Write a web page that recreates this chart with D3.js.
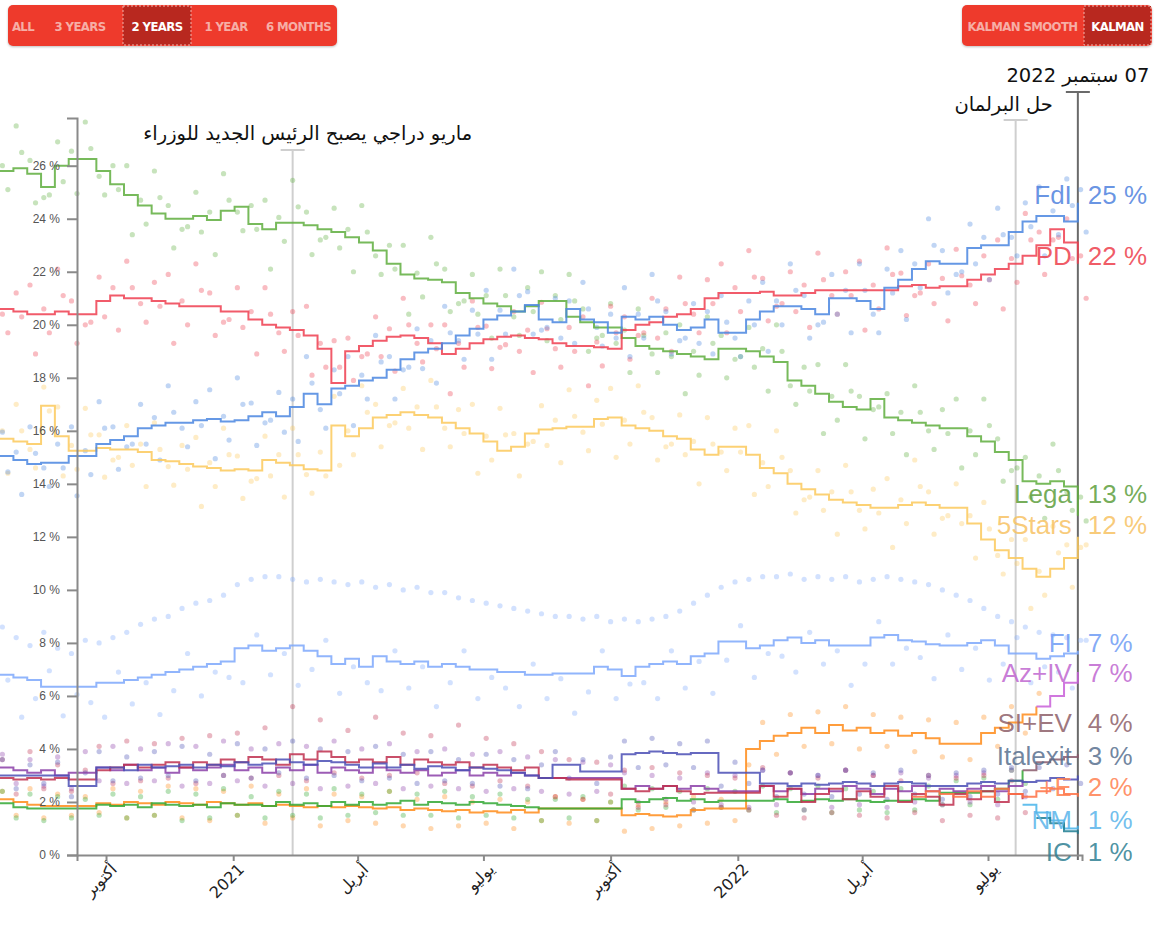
<!DOCTYPE html>
<html>
<head>
<meta charset="utf-8">
<script src="https://cdn.jsdelivr.net/npm/d3@7"></script>
<style>
  body { margin: 0; background: #fff; }
  svg { display: block; }
</style>
</head>
<body>
<div id="chart"></div>
<script>
// one kalman estimate every 10 days, starting 16 Jul 2020
const firstDate = new Date(2020, 6, 16)
const dates = d3.range(79).map(i => d3.timeDay.offset(firstDate, i * 10))

const tickDates  = ['2020-10-01', '2021-01-01', '2021-04-01', '2021-07-01', '2021-10-01', '2022-01-01', '2022-04-01', '2022-07-01']
const tickLabels = ['أكتوبر', '2021', 'أبريل', 'يوليو', 'أكتوبر', '2022', 'أبريل', 'يوليو']
const yTicks     = [0, 2, 4, 6, 8, 10, 12, 14, 16, 18, 20, 22, 24, 26]

const rangeButtons  = ['ALL', '3 YEARS', '2 YEARS', '1 YEAR', '6 MONTHS']
const smoothButtons = ['KALMAN SMOOTH', 'KALMAN']

const events = [
  { date: '2021-02-13', text: 'ماريو دراجي يصبح الرئيس الجديد للوزراء' },
  { date: '2022-07-21', text: 'حل البرلمان' },
  { date: '2022-09-04', text: '07 سبتمبر 2022' }
]

// final labels
const labelNames  = ['FdI', 'PD', 'Lega', '5Stars', 'FI', 'Az+IV', 'SI+EV', 'Italexit', '+E', 'NM', 'IC']
const labelValues = [25, 22, 13, 12, 7, 7, 4, 3, 2, 1, 1]

// ---- kalman lines (%) ----
const fdi = [
  15.05,14.9,14.75,14.8,14.8,15.05,15.05,15.5,15.65,15.8,
  16.1,16.2,16.3,16.3,16.4,16.45,16.35,16.4,16.55,16.7,
  16.55,16.9,17.4,17.0,17.6,17.7,17.9,18.0,18.3,18.7,
  18.95,19.1,19.3,19.6,19.85,20.2,20.35,20.5,20.75,20.2,
  20.1,20.6,20.2,20.1,19.7,20.3,20.2,20.3,20.0,19.8,
  19.9,20.2,19.7,19.7,20.2,20.5,20.7,20.7,20.6,20.4,
  21.0,21.0,20.9,20.6,21.4,21.7,22.1,22.4,22.3,22.3,
  22.9,23.0,23.0,23.5,23.9,24.1,24.1,23.9,24.6]
const pd = [
  20.6,20.5,20.4,20.4,20.5,20.4,20.4,20.9,21.1,21.0,
  21.0,20.9,20.8,20.7,20.7,20.7,20.5,20.5,20.2,20.0,
  19.9,19.8,19.6,19.1,17.8,19.0,19.2,19.4,19.55,19.6,
  19.5,19.3,18.9,19.1,19.3,19.45,19.55,19.6,19.5,19.45,
  19.3,19.2,19.2,19.15,19.1,19.8,20.0,20.1,20.3,20.4,
  20.6,21.0,21.2,21.2,21.2,21.25,21.1,21.1,21.2,21.3,
  21.3,21.3,21.3,21.3,21.3,21.45,21.5,21.4,21.45,21.45,
  21.7,21.9,22.1,22.3,22.6,23.0,23.6,23.1,22.3]
const lega = [
  25.8,25.9,25.7,25.2,26.0,26.25,26.25,25.8,25.3,24.9,
  24.5,24.2,24.0,24.0,24.1,23.95,24.3,24.45,23.8,23.6,
  23.85,23.85,23.75,23.6,23.5,23.3,23.1,22.8,22.3,21.9,
  21.75,21.7,21.6,21.2,21.0,20.8,20.7,20.5,20.7,20.9,
  20.9,20.3,20.1,19.9,19.9,19.5,19.2,19.1,19.0,18.9,
  18.8,18.7,19.1,19.1,19.0,18.8,18.6,17.9,17.7,17.4,
  17.1,16.9,16.8,17.2,16.5,16.4,16.3,16.2,16.1,16.1,
  15.8,15.6,15.2,14.9,14.1,14.0,14.1,13.9,12.8]
const m5s = [
  15.7,15.6,15.5,16.95,15.8,15.25,15.25,15.35,15.3,15.3,
  15.2,14.9,14.85,14.75,14.65,14.6,14.5,14.55,14.5,14.9,
  14.8,14.7,14.55,14.5,16.2,15.8,16.1,16.5,16.6,16.7,
  16.6,16.5,16.3,16.1,15.9,15.6,15.25,15.4,15.9,16.05,
  16.1,16.15,16.15,16.45,16.5,16.2,16.1,16.0,15.8,15.7,
  15.3,15.1,15.4,15.4,15.1,14.6,14.4,14.0,13.8,13.6,
  13.4,13.3,13.2,13.1,13.1,13.2,13.3,13.2,13.1,13.1,
  12.5,11.9,11.5,11.2,10.8,10.5,10.8,11.2,12.0]
const fi = [
  6.8,6.7,6.6,6.35,6.35,6.35,6.35,6.5,6.5,6.6,
  6.7,6.8,6.9,7.0,7.1,7.2,7.3,7.8,7.9,7.7,
  7.8,7.9,7.7,7.5,7.2,7.4,7.1,7.5,7.3,7.2,
  7.3,7.1,7.2,7.1,7.0,7.0,6.9,6.9,6.8,6.8,
  6.85,6.85,6.85,7.1,7.0,6.75,7.1,7.2,7.3,7.2,
  7.5,7.6,8.05,8.05,7.8,7.9,8.1,8.2,8.0,8.1,
  7.9,7.9,7.9,8.2,8.3,8.1,8.05,7.95,7.9,7.9,
  8.0,8.1,7.9,7.6,7.6,7.4,7.5,7.6,7.7]
const italexit = [
  3.0,3.0,3.0,3.0,3.0,2.6,2.6,3.3,3.3,3.2,
  3.4,3.3,3.35,3.4,3.3,3.4,3.35,3.5,3.4,3.45,
  3.6,3.5,3.4,3.55,3.5,3.4,3.3,3.45,3.3,3.4,
  3.25,3.35,3.3,3.2,3.3,3.25,3.2,3.1,3.0,2.9,
  3.4,3.4,3.15,3.15,3.15,3.8,3.85,3.9,3.85,3.8,
  3.85,3.85,3.1,3.1,3.1,2.7,2.7,2.6,2.7,2.65,
  2.7,2.75,2.7,2.6,2.7,2.75,2.7,2.6,2.6,2.6,
  2.7,2.75,2.7,2.8,2.75,2.8,2.9,2.85,3.0]
const iv = [
  3.3,3.2,3.1,3.2,3.0,3.1,3.1,3.3,3.2,3.4,
  3.2,3.3,3.1,3.3,3.2,3.3,3.4,3.2,3.3,3.1,
  3.3,3.2,3.4,3.1,3.3,3.2,3.1,3.3,3.2,3.1,
  3.2,3.0,3.1,3.2,3.0,3.1,3.0,3.1,3.0,2.9,
  2.9,2.9,2.9,2.9,2.9,2.5,2.6,2.5,2.6,2.5,
  2.6,2.5,2.4,2.4,2.4,2.6,2.4,2.5,2.3,2.5,
  2.4,2.6,2.5,2.3,2.5,2.4,2.6,2.4,2.5,2.4,
  2.5,2.6,2.4,2.6,2.8,null,null,null,null]
const si = [
  2.9,2.85,2.9,2.85,2.9,2.85,2.85,3.2,3.3,3.4,
  3.3,3.4,3.5,3.3,3.5,3.4,3.6,3.5,3.7,3.6,
  3.4,3.8,3.6,3.9,3.7,3.5,3.6,3.5,3.7,3.4,
  3.6,3.5,3.4,3.5,3.3,3.4,3.3,3.2,3.3,2.9,
  2.9,2.85,2.85,2.85,2.85,2.5,2.4,2.5,2.6,2.4,
  2.3,2.35,2.35,2.35,2.35,2.6,2.2,2.5,2.0,2.3,
  2.5,2.1,2.4,2.2,2.6,2.0,2.3,2.2,1.9,2.3,
  2.1,2.4,2.0,2.3,2.1,null,null,null,null]
const ev = [
  1.95,1.8,1.75,1.75,1.75,1.75,1.75,1.9,1.85,1.9,
  1.8,1.95,1.9,1.85,1.9,1.8,1.95,1.9,1.9,1.85,
  2.0,1.9,1.95,1.85,2.0,1.9,2.0,1.9,1.95,2.05,
  1.9,2.0,1.95,1.9,2.0,1.95,1.9,1.85,1.8,1.75,
  1.75,1.75,1.75,1.75,1.75,2.1,2.0,2.1,2.15,2.05,
  2.1,2.0,2.05,2.05,2.05,2.05,2.1,2.0,2.05,2.1,
  2.05,2.1,2.05,2.0,2.05,2.05,2.1,2.05,2.35,2.35,
  2.35,2.4,2.5,2.8,3.2,null,null,null,null]
const azione = [
  2.1,2.0,1.9,1.85,1.85,1.85,1.85,1.95,1.9,2.0,
  1.95,1.9,2.0,1.95,1.9,2.0,1.95,1.9,1.95,1.85,
  1.9,1.85,1.8,1.85,1.8,1.85,1.8,1.75,1.8,1.7,
  1.75,1.7,1.65,1.7,1.6,1.65,1.6,1.7,1.6,1.75,
  1.75,1.75,1.75,1.75,1.75,1.5,1.55,1.5,1.45,1.5,
  1.7,1.75,1.75,1.75,4.0,4.3,4.5,4.6,4.8,4.6,
  4.9,4.7,4.8,4.6,4.7,4.5,4.6,4.4,4.2,4.2,
  4.2,4.6,4.8,5.0,5.3,5.6,null,null,null]
const siev      = Array(74).fill(null).concat([3.2, 3.5, 3.6, 3.7, 3.8])
const aziv      = Array(75).fill(null).concat([5.6, 6.0, 6.5, 6.9])
const piuEuropa = Array(66).fill(null).concat([2.2,2.4,2.3,2.2,2.4,2.2,2.5,2.3,2.2,2.4,2.5,2.3,2.2])
const nm        = Array(74).fill(null).concat([1.9, 1.6, 1.3, 1.0, 1.1])
const ic        = Array(75).fill(null).concat([1.4, 1.2, 0.9, 0.8])

// ---- single polls (%) ----
const fdiPollsA = [
  15.95,15.2,16.15,14.6,15.5,16.15,15.25,17.1,16.15,15.4,
  17.0,16.5,17.7,16.1,17.1,17.55,16.55,18.0,17.05,16.3,
  17.45,17.2,18.8,16.8,18.3,18.8,18.1,19.6,18.8,18.3,
  19.85,19.4,20.7,19.4,20.55,21.3,20.55,22.1,21.25,19.8,
  21.0,20.9,21.6,19.9,20.4,21.4,20.4,21.9,20.5,19.4,
  20.8,20.5,21.1,19.5,20.9,21.6,20.9,22.3,21.1,20.0,
  21.9,21.3,22.3,20.4,22.1,22.8,22.3,24.0,22.8,21.9,
  23.8,23.3,24.4,23.3,24.6,25.2,24.3,25.5,25.1]
const fdiPollsB = [
  14.45,13.6,15.15,13.9,14.6,13.55,14.35,16.1,14.55,15.5,
  15.5,14.9,16.7,15.4,16.2,14.95,15.65,17.0,15.45,16.4,
  15.95,15.6,17.8,16.1,17.4,16.2,17.2,18.6,17.2,18.4,
  18.35,17.8,19.7,18.7,19.65,18.7,19.65,21.1,19.65,19.9,
  19.5,19.3,20.6,19.2,19.5,18.8,19.5,20.9,18.9,19.5,
  19.3,18.9,20.1,18.8,20.0,19.0,20.0,21.3,19.5,20.1,
  20.4,19.7,21.3,19.7,21.2,20.2,21.4,23.0,21.2,22.0,
  22.3,21.7,23.4,22.6,23.7,22.6,23.4,24.5,23.5]
const pdPollsA = [
  20.4,21.2,21.5,20.6,22.1,20.9,20.0,21.8,21.4,22.4,
  20.8,21.6,21.9,20.9,22.3,21.2,20.1,21.4,20.5,21.4,
  19.7,20.5,20.7,19.3,19.4,19.5,18.8,20.3,19.85,21.0,
  19.3,20.0,20.0,19.3,20.9,19.95,19.15,20.5,19.8,20.85,
  19.1,19.9,20.3,19.35,20.7,20.3,19.6,21.0,20.6,21.8,
  20.4,21.7,22.3,21.4,22.8,21.75,20.7,22.0,21.5,22.7,
  21.1,22.0,22.4,21.5,22.9,21.95,21.1,22.3,21.75,22.85,
  21.5,22.6,23.2,22.5,24.2,23.5,23.2,24.0,22.6]
const pdPollsB = [
  19.7,20.3,18.9,19.7,21.1,19.3,20.1,20.3,19.8,21.4,
  20.1,20.7,19.3,20.0,21.3,19.6,20.2,19.9,18.9,20.4,
  19.0,19.6,18.1,18.4,18.4,17.9,18.9,18.8,18.25,20.0,
  18.6,19.1,17.4,18.4,19.9,18.35,19.25,19.0,18.2,19.85,
  18.4,19.0,17.7,18.45,19.7,18.7,19.7,19.5,19.0,20.8,
  19.7,20.8,19.7,20.5,21.8,20.15,20.8,20.5,19.9,21.7,
  20.4,21.1,19.8,20.6,21.9,20.35,21.2,20.8,20.15,21.85,
  20.8,21.7,20.6,21.6,23.2,21.9,23.3,22.5,21.0]
const legaPollsA = [
  26.0,27.5,26.2,24.8,26.9,26.55,27.65,25.6,26.0,26.0,
  24.7,25.8,24.5,23.6,25.0,24.25,25.7,24.25,24.5,24.7,
  24.05,25.45,24.25,23.2,24.4,23.6,24.5,22.6,23.0,23.0,
  21.95,23.3,22.1,20.8,21.9,21.1,22.1,20.3,21.4,22.0,
  21.1,21.9,20.6,19.5,20.8,19.8,20.6,18.9,19.7,20.0,
  19.0,20.3,19.6,18.7,19.9,19.1,20.0,17.7,18.4,18.5,
  17.3,18.5,17.3,16.8,17.4,16.7,17.7,16.0,16.8,17.2,
  16.0,17.2,15.7,14.5,15.0,14.3,15.5,13.7,13.5]
const legaPollsB = [
  25.1,26.5,24.6,24.9,25.4,24.95,26.65,24.9,25.1,23.4,
  23.8,24.8,22.9,23.7,23.5,22.65,24.7,23.55,23.6,22.1,
  23.15,24.45,22.65,23.3,22.9,22.0,23.5,21.9,22.1,20.4,
  21.05,22.3,20.5,20.9,20.4,19.5,21.1,19.6,20.5,19.4,
  20.2,20.9,19.0,19.6,19.3,18.2,19.6,18.2,18.8,17.4,
  18.1,19.3,18.0,18.8,18.4,17.5,19.0,17.0,17.5,15.9,
  16.4,17.5,15.7,16.9,15.9,15.1,16.7,15.3,15.9,14.6,
  15.1,16.2,14.1,14.6,13.5,12.7,14.5,13.0,12.6]
const m5sPollsA = [
  16.0,17.0,15.3,17.65,16.9,15.45,16.85,15.85,14.9,16.2,
  15.5,16.3,14.65,15.45,15.75,14.8,16.1,15.05,14.1,15.8,
  15.1,16.1,14.35,15.2,17.3,16.0,17.7,17.0,16.2,17.6,
  16.9,17.9,16.1,16.8,17.0,15.8,16.85,15.9,15.5,16.95,
  16.4,17.55,15.95,17.15,17.6,16.4,17.7,16.5,15.4,16.6,
  15.6,16.5,15.2,16.1,16.2,14.8,16.0,14.5,13.4,14.5,
  13.7,14.7,13.0,13.8,14.2,13.4,14.9,13.7,12.7,14.0,
  12.8,13.3,11.3,11.9,11.9,10.7,12.4,11.7,11.6]
const m5sPollsB = [
  14.4,16.0,14.6,16.75,14.3,14.55,15.85,14.25,15.0,14.7,
  13.9,15.3,13.95,14.55,13.15,13.9,15.1,13.45,14.2,14.3,
  13.5,15.1,13.65,14.3,14.7,15.1,16.7,15.4,16.3,16.1,
  15.3,16.9,15.4,15.9,14.4,14.9,15.85,14.3,15.6,15.45,
  14.8,16.55,15.25,16.25,15.0,15.5,16.7,14.9,15.5,15.1,
  14.0,15.5,14.5,15.2,13.6,13.9,15.0,12.9,13.5,13.0,
  12.1,13.7,12.3,12.9,11.6,12.5,13.9,12.1,12.8,12.5,
  11.2,12.3,10.6,11.0,9.3,9.8,11.4,10.1,11.7]
const fiPollsA = [
  8.6,8.2,7.9,8.4,7.8,7.6,8.1,8.0,8.2,8.4,
  8.7,8.9,9.0,9.3,9.5,9.6,9.8,10.2,10.4,10.5,
  10.5,10.4,10.3,10.4,10.3,10.2,10.3,10.1,10.2,10.0,
  10.1,9.9,9.9,9.7,9.6,9.5,9.4,9.3,9.2,9.1,
  9.0,9.0,8.9,9.0,8.8,8.9,8.8,8.9,9.0,9.2,
  9.5,9.8,10.1,10.3,10.4,10.5,10.5,10.6,10.4,10.5,
  10.4,10.5,10.3,10.4,10.5,10.4,10.3,10.2,10.0,9.8,
  9.6,9.3,9.0,8.8,8.6,8.4,8.3,8.2,8.1]
const fiPollsB = [
  6.6,5.2,5.9,6.95,5.25,6.05,5.75,5.2,6.9,5.7,
  6.5,5.3,6.2,7.6,6.0,6.9,6.7,6.5,8.3,6.8,
  7.6,6.4,7.0,8.1,6.1,7.1,6.5,6.2,7.7,6.3,
  7.1,5.6,6.5,7.7,5.9,6.7,6.3,5.6,7.2,5.9,
  6.65,5.35,6.15,7.7,5.9,6.45,6.5,5.9,7.7,6.3,
  7.3,6.1,7.35,8.65,6.7,7.6,7.5,6.9,8.4,7.2,
  7.7,6.4,7.2,8.8,7.2,7.8,7.45,6.65,8.3,7.0,
  7.8,6.6,7.2,8.2,6.5,7.1,6.9,6.3,8.1]
const italexitPolls = [
  3.6,2.5,3.4,2.7,3.5,2.2,3.1,3.9,2.8,3.7,
  2.9,3.9,3.0,4.1,2.8,3.8,3.0,4.2,2.9,4.0,
  3.1,4.3,2.9,4.0,3.0,3.9,2.8,4.1,2.9,3.8,
  2.7,3.9,2.8,3.6,2.7,3.8,2.6,3.6,2.5,3.4,
  3.9,2.9,3.6,2.7,3.7,4.3,3.3,4.4,3.4,4.2,
  3.3,4.3,2.6,3.5,2.7,3.2,2.2,3.1,2.3,3.0,
  2.2,3.2,2.3,3.1,2.1,3.2,2.3,3.0,2.1,3.1,
  2.2,3.2,2.3,3.3,2.4,3.3,2.5,3.4,2.7]
const siPolls = [
  3.6,2.3,3.9,2.5,3.4,2.4,3.2,4.1,2.7,4.3,
  2.8,4.2,2.9,4.4,2.7,4.5,3.0,4.6,2.9,4.8,
  3.0,5.6,2.8,5.1,3.1,4.7,2.9,5.2,3.0,4.6,
  3.1,4.5,2.7,4.9,2.6,4.4,2.8,4.2,2.6,3.9,
  2.2,3.6,2.1,3.5,2.3,3.2,1.8,3.3,1.9,3.1,
  1.7,3.0,1.8,2.9,1.7,3.3,1.5,3.1,1.4,2.9,
  1.6,3.2,1.5,3.0,1.4,2.8,1.6,3.0,1.3,2.9,
  1.5,3.0,1.4,2.8,1.6,null,null,null,null]
const azionePolls = [
  2.4,1.5,2.5,1.4,2.3,1.5,2.2,1.6,2.5,1.4,
  2.4,1.5,2.6,1.4,2.5,1.3,2.4,1.5,2.6,1.2,
  2.3,1.4,2.5,1.1,2.3,1.3,2.2,1.2,2.4,1.1,
  2.1,1.0,2.2,1.1,2.0,1.2,2.1,1.0,2.0,1.3,
  2.2,1.2,2.1,1.3,2.0,0.9,1.9,1.0,2.0,1.1,
  2.2,1.2,2.1,1.3,3.4,5.0,3.8,5.3,4.1,5.4,
  4.2,5.6,4.0,5.3,4.1,5.2,3.9,5.1,3.7,5.0,
  3.6,5.2,4.1,5.6,4.6,6.1,null,null,null]
const evPolls = [
  2.4,1.4,2.3,1.3,2.2,1.4,2.1,1.5,2.3,1.4,
  2.2,1.5,2.4,1.3,2.3,1.4,2.5,1.5,2.2,1.4,
  2.4,1.5,2.3,1.4,2.5,1.5,2.3,1.6,2.4,1.5,
  2.3,1.5,2.4,1.4,2.2,1.5,2.3,1.4,2.1,1.3,
  2.1,1.4,2.2,1.3,2.0,2.6,1.7,2.5,1.8,2.4,
  1.7,2.5,1.8,2.4,1.7,2.6,1.6,2.5,1.7,2.6,
  1.6,2.5,1.7,2.4,1.6,2.5,1.7,2.6,1.9,2.8,
  1.9,2.9,2.1,3.2,2.7,null,null,null,null]
const ivPolls = [
  3.8,2.7,3.6,2.6,3.7,2.5,3.9,2.8,4.1,2.7,
  4.0,2.8,4.2,2.6,4.1,2.7,4.3,2.8,4.0,2.6,
  4.2,2.7,4.1,2.5,4.3,2.6,4.0,2.7,4.2,2.5,
  3.9,2.6,4.0,2.5,3.8,2.4,3.9,2.5,3.7,2.4,
  3.6,2.3,3.5,2.4,3.4,3.1,2.0,3.0,2.1,2.9,
  2.0,3.1,1.9,3.0,1.8,3.2,1.9,3.1,1.7,3.0,
  1.8,3.2,1.9,3.0,1.8,3.1,2.0,2.9,1.9,3.0,
  2.0,3.1,1.9,3.2,2.2,null,null,null,null]

// ---- styles / layout ----
const colors = {
  'FdI': '#4a86e0', 'PD': '#ef3e50', 'Lega': '#5fae3e', '5Stars': '#fbc95c', 'FI': '#7ea8fb',
  'Italexit': '#4b4fb5', 'IV': '#8b3fa8', 'SI': '#c0304f', 'EV': '#33a834', 'Azione': '#ff8c1a',
  'Az+IV': '#c85fd8', 'SI+EV': '#8a5a6c', '+E': '#ff7043', 'NM': '#48b4ea', 'IC': '#1d7d92'
}
const labelColors = {
  'FdI': '#4f82de', 'PD': '#ee3e4c', 'Lega': '#5d9e3c', '5Stars': '#f7c263', 'FI': '#6f9cf5',
  'Az+IV': '#c067d0', 'SI+EV': '#8e5f69', 'Italexit': '#58708f', '+E': '#ff7f50', 'NM': '#5ab4ea', 'IC': '#2f7f93'
}
// vertical spot of every end label, in % units (labels are pushed apart)
const labelSpots = [24.9, 22.6, 13.62, 12.45, 8.0, 6.87, 4.98, 3.74, 2.57, 1.32, 0.11]

const series = [
  { name: 'Azione', line: azione, polls: [azionePolls] },
  { name: 'EV', line: ev, polls: [evPolls] },
  { name: 'IV', line: iv, polls: [ivPolls] },
  { name: 'SI', line: si, polls: [siPolls] },
  { name: 'Italexit', line: italexit, polls: [italexitPolls] },
  { name: '+E', line: piuEuropa, polls: [] },
  { name: 'NM', line: nm, polls: [] },
  { name: 'IC', line: ic, polls: [] },
  { name: 'SI+EV', line: siev, polls: [] },
  { name: 'Az+IV', line: aziv, polls: [] },
  { name: 'FI', line: fi, polls: [fiPollsA, fiPollsB] },
  { name: '5Stars', line: m5s, polls: [m5sPollsA, m5sPollsB] },
  { name: 'Lega', line: lega, polls: [legaPollsA, legaPollsB] },
  { name: 'PD', line: pd, polls: [pdPollsA, pdPollsB] },
  { name: 'FdI', line: fdi, polls: [fdiPollsA, fdiPollsB] }
]
const pollShift = [2, 6] // days after the estimate date

var width  = 1166,
    height = 926,
    parse  = d3.timeParse('%Y-%m-%d'),
    arabic = "'DejaVu Sans', sans-serif",
    latin  = "'Liberation Sans', Arial, sans-serif",
    narrow = "'DejaVu Sans Condensed', 'Liberation Sans Narrow', sans-serif"

const x = d3.scaleTime()
  .domain([new Date(2020, 8, 10), new Date(2022, 8, 7)])
  .range([77, 1082])
const y = d3.scaleLinear()
  .domain([0, 27.8])
  .range([855, 118])

const svg = d3.select('#chart')
  .append('svg')
  .attr('width', width)
  .attr('height', height)
  .style('background', '#fff')

// ---- buttons ----
const drawButtons = (labels, left, widths, selected) => {
  const g = svg.append('g').attr('transform', `translate(${left},5)`)
  const total = d3.sum(widths)
  g.append('rect')
    .attr('width', total).attr('height', 41).attr('rx', 5)
    .attr('fill', '#ee3a2c')
    .style('filter', 'drop-shadow(0 1px 1px rgba(0,0,0,0.25))')
  var pos = 0
  labels.forEach((label, i) => {
    if (i === selected) {
      g.append('rect')
        .attr('x', pos + 1).attr('y', 1)
        .attr('width', widths[i] - 2).attr('height', 39)
        .attr('fill', '#b8281f')
        .attr('stroke', '#f3b2ab')
        .attr('stroke-dasharray', '2,2')
        .attr('stroke-width', 1)
    }
    g.append('text')
      .attr('x', pos + widths[i] / 2)
      .attr('y', 26)
      .attr('text-anchor', 'middle')
      .style('font-family', narrow)
      .style('font-weight', 'bold')
      .style('font-size', '13px')
      .style('letter-spacing', '-0.6px')
      .attr('fill', i === selected ? '#ffffff' : '#f6aea6')
      .text(label)
    pos += widths[i]
  })
}
drawButtons(rangeButtons, 8, [30, 84, 70, 68, 77], 2)
drawButtons(smoothButtons, 962, [121, 69], 1)

// ---- event markers ----
const eventStyles = [
  { top: 150, color: '#cfcfcf', textY: 140, dx: 15 },
  { top: 120, color: '#cfcfcf', textY: 111, dx: -12 },
  { top: 92, color: '#6a6a6a', textY: 82, dx: 0 }
]
events.forEach((e, i) => {
  const st = eventStyles[i]
  const ex = x(parse(e.date))
  svg.append('line')
    .attr('x1', ex).attr('x2', ex)
    .attr('y1', st.top).attr('y2', i === 2 ? 860 : y(0))
    .attr('stroke', st.color).attr('stroke-width', 2)
  svg.append('line')
    .attr('x1', ex - 12).attr('x2', ex + 12)
    .attr('y1', st.top).attr('y2', st.top)
    .attr('stroke', st.color).attr('stroke-width', 2)
  svg.append('text')
    .attr('x', ex + st.dx)
    .attr('y', st.textY)
    .attr('text-anchor', 'middle')
    .attr('direction', 'rtl')
    .style('font-family', arabic)
    .style('font-size', '19.5px')
    .attr('fill', '#111')
    .text(e.text)
})

// ---- poll dots ----
const dotsLayer = svg.append('g')
series.forEach(s => {
  s.polls.forEach((arr, j) => {
    dotsLayer.append('g')
      .selectAll('circle')
      .data(arr.map((v, i) => ({ v: v, d: dates[i] })).filter(p => p.v != null))
      .enter()
      .append('circle')
        .attr('cx', p => x(d3.timeDay.offset(p.d, pollShift[j])))
        .attr('cy', p => y(p.v))
        .attr('r', 2.6)
        .attr('fill', colors[s.name])
        .attr('fill-opacity', 0.35)
  })
})

// ---- kalman lines ----
const line = d3.line()
  .defined(v => v != null)
  .x((v, i) => x(dates[i]))
  .y(v => y(v))
  .curve(d3.curveStepAfter)

svg.append('g')
  .selectAll('path')
  .data(series)
  .enter()
  .append('path')
    .attr('d', s => line(s.line))
    .attr('fill', 'none')
    .attr('stroke', s => colors[s.name])
    .attr('stroke-width', 2)
    .attr('stroke-opacity', 0.85)

// ---- axes ----
const yAxis = svg.append('g')
  .attr('transform', `translate(${x.range()[0]},0)`)
  .call(d3.axisLeft(y).tickValues(yTicks).tickFormat(d => `${d} %`).tickSize(10).tickSizeOuter(10).tickPadding(7))
const xAxis = svg.append('g')
  .attr('transform', `translate(0,${y(0)})`)
  .call(d3.axisBottom(x).tickValues(tickDates.map(parse)).tickFormat((d, i) => tickLabels[i]).tickSize(6).tickSizeOuter(6))

;[yAxis, xAxis].forEach(a => {
  a.select('.domain').attr('stroke', '#8a8a8a').attr('stroke-width', 2)
  a.selectAll('.tick line').attr('stroke', '#8a8a8a').attr('stroke-width', 2)
})
yAxis.selectAll('text')
  .style('font-family', latin)
  .style('font-size', '12px')
  .attr('fill', '#555')
xAxis.selectAll('text')
  .style('font-family', arabic)
  .style('font-size', '16px')
  .attr('fill', '#222')
  .attr('text-anchor', 'end')
  .attr('dy', 0)
  .attr('transform', 'translate(5,9) rotate(-45)')

// ---- end labels ----
const endX = x(parse(events[2].date))
const labels = svg.append('g')
labelNames.forEach((name, i) => {
  const ly = y(labelSpots[i])
  labels.append('text')
    .attr('x', endX - 6).attr('y', ly)
    .attr('dy', '0.35em')
    .attr('text-anchor', 'end')
    .style('font-family', latin)
    .style('font-size', '26px')
    .attr('fill', labelColors[name])
    .attr('fill-opacity', 0.85)
    .text(name)
  labels.append('text')
    .attr('x', endX + 10).attr('y', ly)
    .attr('dy', '0.35em')
    .style('font-family', latin)
    .style('font-size', '26px')
    .attr('fill', labelColors[name])
    .attr('fill-opacity', 0.85)
    .text(`${labelValues[i]} %`)
})
</script>
</body>
</html>
